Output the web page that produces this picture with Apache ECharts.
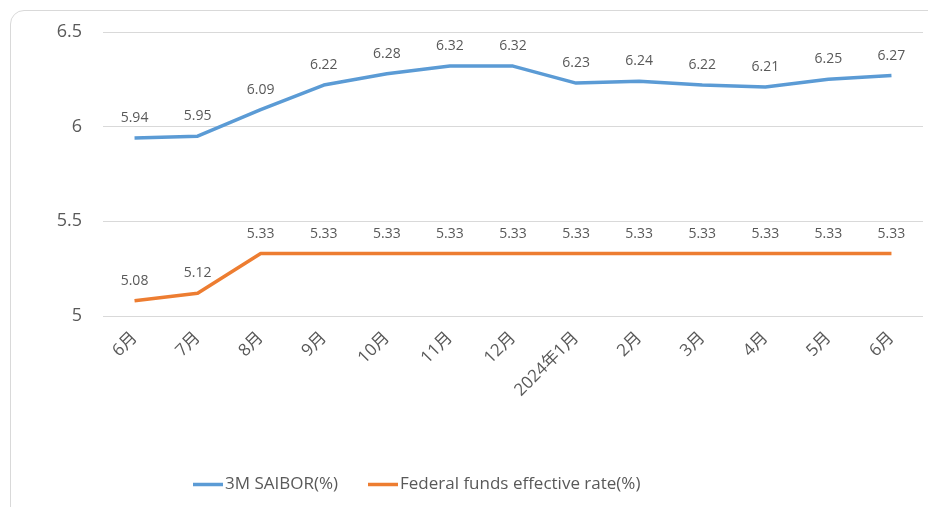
<!DOCTYPE html>
<html>
<head>
	<meta charset="utf-8">
	<title></title>
	<script src="https://cdn.jsdelivr.net/npm/echarts@6/dist/echarts.min.js"></script>
	<style>
		html,body{margin:0;padding:0;background:#fff;overflow:hidden;}
		#frame{position:absolute;left:10px;top:10px;width:970px;height:540px;border:1px solid #d9d9d9;border-radius:14px;}
		#chart{position:absolute;left:0;top:0;width:928px;height:507px;}
	</style>
</head>
<body>
	<div id="frame"></div>
	<div id="chart"></div>
<script type="text/javascript">
	var months=['6月','7月','8月','9月','10月','11月','12月','2024年1月','2月','3月','4月','5月','6月'];
	var saibor=[5.94,5.95,6.09,6.22,6.28,6.32,6.32,6.23,6.24,6.22,6.21,6.25,6.27];
	var fedRate=[5.08,5.12,5.33,5.33,5.33,5.33,5.33,5.33,5.33,5.33,5.33,5.33,5.33];
	var seriesNames=['3M SAIBOR(%)','Federal funds effective rate(%)'];
	var colors=['#5b9bd5','#ed7d31'];

	var font='"Open Sans","Noto Sans CJK SC",sans-serif';
	var myChart=echarts.init(document.getElementById('chart'));

	function makeLine(name,data,color){
		return {
			name:name,
			type:'line',
			data:data,
			symbol:'circle',
			symbolSize:0,
			showSymbol:true,
			lineStyle:{width:3.5,color:color,join:'round'},
			itemStyle:{color:color},
			label:{
				show:true,
				position:'top',
				distance:13,
				color:'#595959',
				fontSize:14,
				fontFamily:font,
				formatter:function(p){return p.value.toFixed(2);}
			}
		};
	}

	var option={
		animation:false,
		textStyle:{fontFamily:font},
		grid:{left:103,right:5,top:32,bottom:191,containLabel:false},
		legend:{
			top:471,
			left:188,
			icon:'rect',
			itemWidth:30,
			itemHeight:3.5,
			itemGap:30,
			textStyle:{fontSize:17,color:'#595959',fontFamily:font,padding:[0,0,0,-3]},
			data:seriesNames
		},
		xAxis:{
			type:'category',
			data:months,
			boundaryGap:true,
			axisLine:{show:false},
			axisTick:{show:false},
			axisLabel:{rotate:45,fontSize:17,color:'#595959',margin:19,interval:0,fontFamily:font}
		},
		yAxis:{
			type:'value',
			min:5,
			max:6.5,
			interval:0.5,
			axisLine:{show:false},
			axisTick:{show:false},
			axisLabel:{fontSize:18,color:'#595959',margin:21,fontFamily:font},
			splitLine:{lineStyle:{color:'#d9d9d9',width:1}}
		},
		series:[
			makeLine(seriesNames[0],saibor,colors[0]),
			makeLine(seriesNames[1],fedRate,colors[1])
		]
	};
	myChart.setOption(option);
	window.addEventListener('resize',()=>{myChart.resize();});
</script>
</body>
</html>
